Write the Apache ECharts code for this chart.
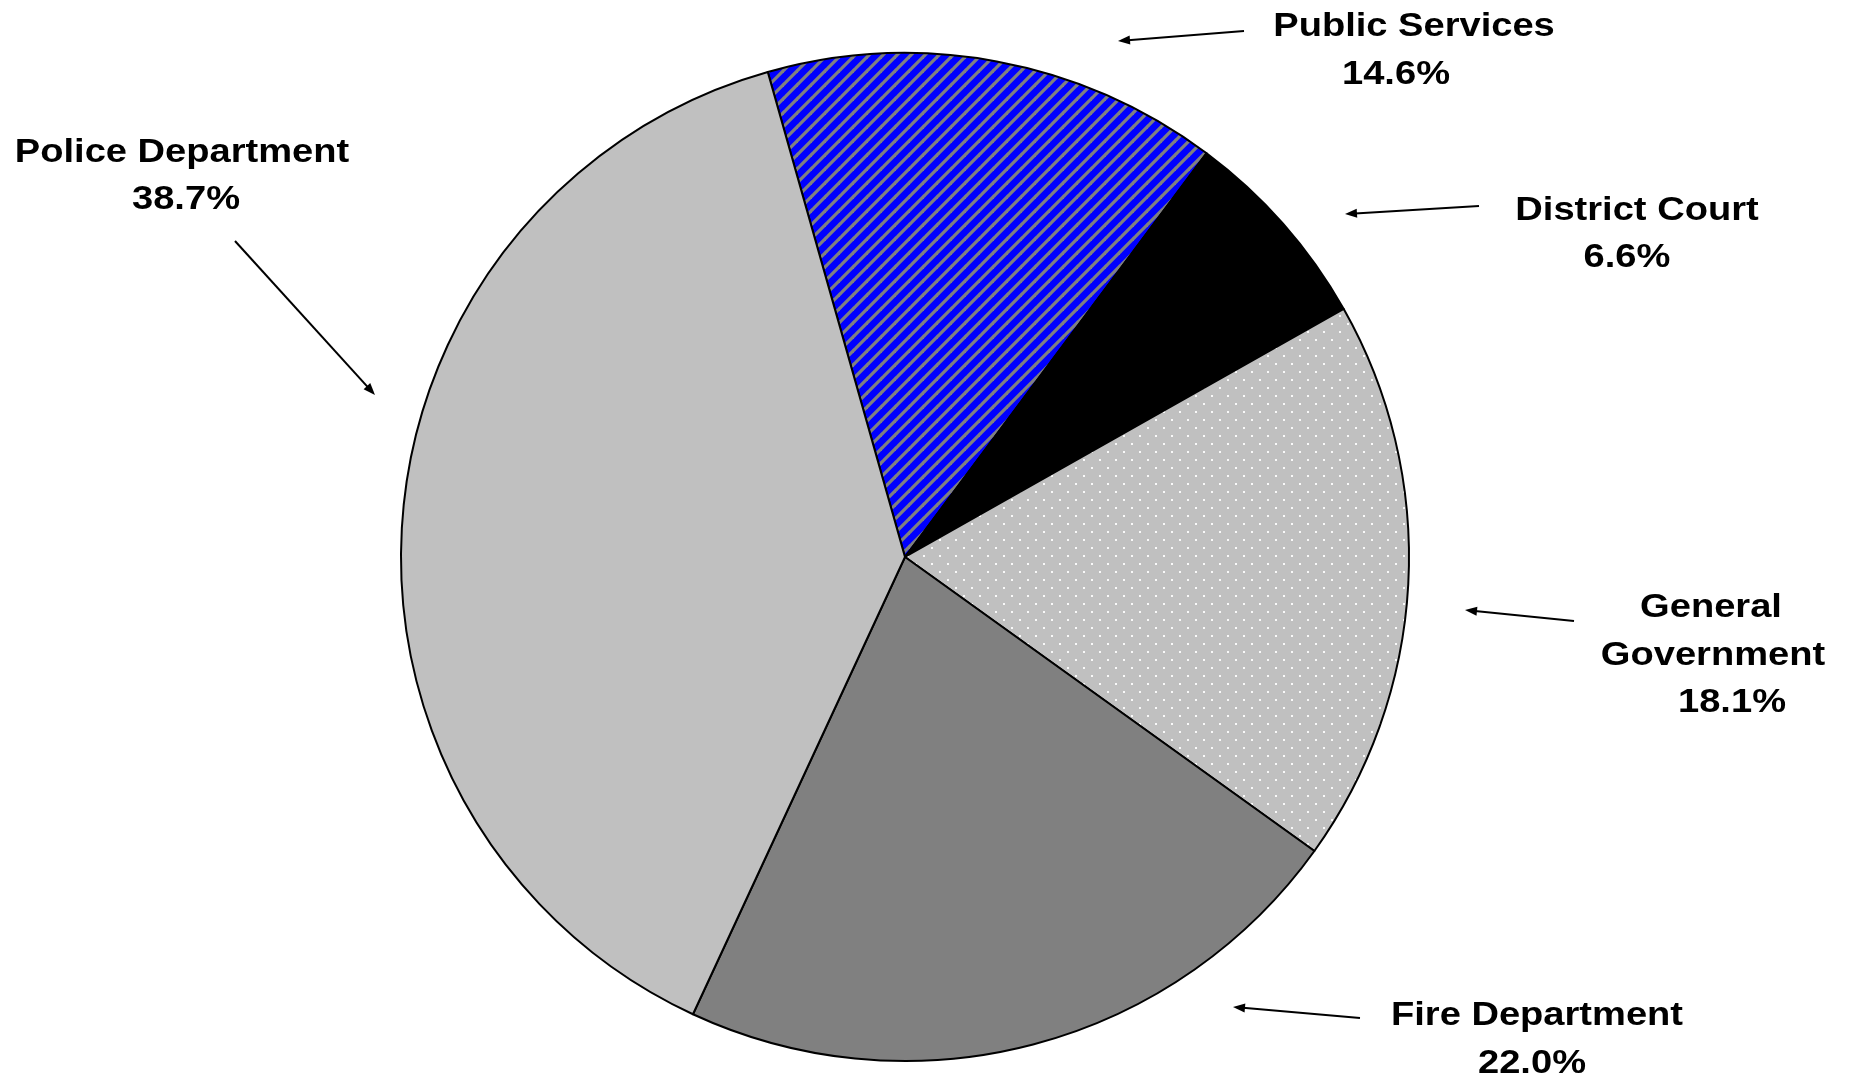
<!DOCTYPE html>
<html><head><meta charset="utf-8">
<script src="https://cdn.jsdelivr.net/npm/echarts@6/dist/echarts.min.js"></script>
<style>html,body{margin:0;padding:0;background:#fff}#c{width:1852px;height:1083px}</style>
</head><body><div id="c"></div>
<script>
// ---- data ----
const categories = ['Public Services', 'District Court', 'General Government', 'Fire Department', 'Police Department'];
const values = [14.6, 6.6, 18.1, 22.0, 38.7];
const wrappedNames = { 'General Government': ['General', 'Government'] };

// ---- fills ----
function stripePattern() {
  const s = 14, c = document.createElement('canvas');
  c.width = s; c.height = s;
  const g = c.getContext('2d');
  g.fillStyle = '#0000FF'; g.fillRect(0, 0, s, s);
  g.strokeStyle = '#808080'; g.lineWidth = 3.2;
  for (const k of [0, s, 2 * s]) { g.beginPath(); g.moveTo(k + 1, -1); g.lineTo(k - s - 1, s + 1); g.stroke(); }
  return { image: c, repeat: 'repeat' };
}
function dotPattern() {
  const s = 16, c = document.createElement('canvas');
  c.width = s; c.height = s;
  const g = c.getContext('2d');
  g.fillStyle = '#C0C0C0'; g.fillRect(0, 0, s, s);
  g.fillStyle = 'rgba(255,255,255,0.9)';
  g.fillRect(3, 3, 2, 2); g.fillRect(11, 11, 2, 2);
  return { image: c, repeat: 'repeat' };
}
const fills = [stripePattern(), '#000000', dotPattern(), '#808080', '#C0C0C0'];

// ---- label / arrow layout (positions only) ----
const layout = {
  'Public Services':    { lines: [[1414, 27], [1396, 75]],              arrow: [[1244, 31], [1118, 41]] },
  'District Court':     { lines: [[1637, 211], [1627, 258]],            arrow: [[1479, 206], [1345, 214]] },
  'General Government': { lines: [[1711, 608], [1713, 656], [1732, 703]], arrow: [[1574, 621], [1465, 610]] },
  'Fire Department':    { lines: [[1537, 1016], [1532, 1064]],          arrow: [[1360, 1018], [1233, 1007]] },
  'Police Department':  { lines: [[182, 153], [186, 200]],              arrow: [[235, 241], [375, 395]] }
};

const graphics = [];
categories.forEach((name, i) => {
  const L = layout[name];
  const texts = (wrappedNames[name] || [name]).concat([values[i].toFixed(1) + '%']);
  texts.forEach((t, j) => {
    graphics.push({
      type: 'text', x: L.lines[j][0], y: L.lines[j][1], scaleX: 1.12, silent: true,
      style: { text: t, x: 0, y: 0, align: 'center', verticalAlign: 'middle',
               font: 'bold 34px "Liberation Sans", Arial, sans-serif', fill: '#000' }
    });
  });
  const [a, b] = L.arrow;
  const dx = b[0] - a[0], dy = b[1] - a[1], len = Math.hypot(dx, dy);
  const ux = dx / len, uy = dy / len, hl = 12, hw = 4.5;
  const bx = b[0] - ux * hl, by = b[1] - uy * hl;
  graphics.push({ type: 'line', silent: true, shape: { x1: a[0], y1: a[1], x2: bx + ux * 2, y2: by + uy * 2 },
                  style: { stroke: '#000', lineWidth: 2 } });
  graphics.push({ type: 'polygon', silent: true,
                  shape: { points: [[b[0], b[1]], [bx - uy * hw, by + ux * hw], [bx + uy * hw, by - ux * hw]] },
                  style: { fill: '#000' } });
});

const chart = echarts.init(document.getElementById('c'), null, { renderer: 'canvas' });
chart.setOption({
  backgroundColor: '#ffffff',
  animation: false,
  series: [{
    type: 'pie',
    center: [905, 557],
    radius: 504,
    startAngle: 105.8,
    clockwise: true,
    avoidLabelOverlap: false,
    label: { show: false },
    labelLine: { show: false },
    emphasis: { disabled: true },
    itemStyle: { borderColor: '#000', borderWidth: 2 },
    data: categories.map((n, i) => ({ name: n, value: values[i], itemStyle: { color: fills[i] } }))
  }],
  graphic: graphics
});
</script></body></html>
